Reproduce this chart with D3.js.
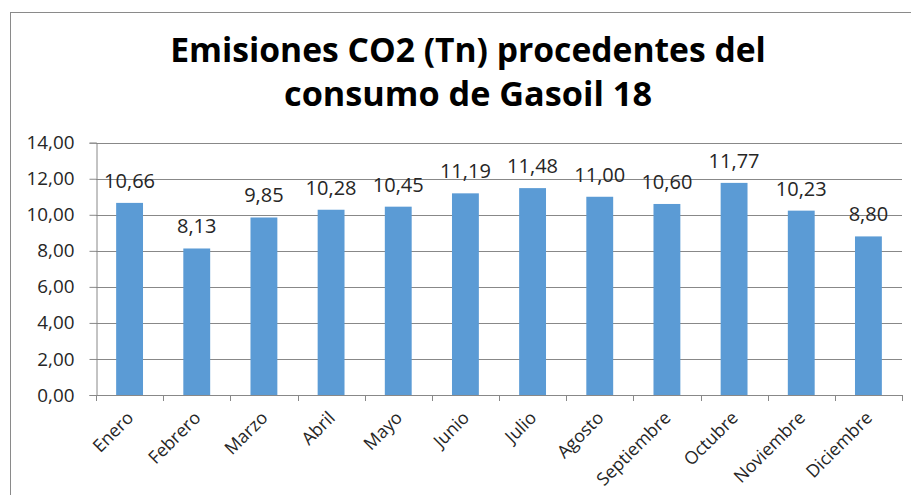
<!DOCTYPE html>
<html><head><meta charset="utf-8">
<script src="https://cdn.jsdelivr.net/npm/d3@7"></script>
<style>
html,body{margin:0;padding:0;background:#fff;}
svg{display:block;}
</style></head>
<body>
<svg id="chart" width="911" height="495"></svg>
<script>
const titleLines = ["Emisiones CO2 (Tn) procedentes del", "consumo de Gasoil 18"];
const months = ["Enero","Febrero","Marzo","Abril","Mayo","Junio","Julio","Agosto","Septiembre","Octubre","Noviembre","Diciembre"];
const emissions = [10.66, 8.13, 9.85, 10.28, 10.45, 11.19, 11.48, 11.00, 10.60, 11.77, 10.23, 8.80];
const yTicks = [0, 2, 4, 6, 8, 10, 12, 14];

const fmt = v => d3.format(".2f")(v).replace(".", ",");
const svg = d3.select("#chart");
const FONT = "'Open Sans', 'Noto Sans', sans-serif";

// font size so that a sample string gets a target width
function fitSize(sample, target, weight) {
  const t = svg.append("text").attr("font-family", FONT).attr("font-weight", weight || "normal")
    .attr("font-size", 20).text(sample);
  const w = t.node().getComputedTextLength();
  t.remove();
  return 20 * target / w;
}
const tickFs = fitSize("14,00", 48);
const labelFs = fitSize("10,66", 51);
const catFs = fitSize("Septiembre", 96);

// chart border (extends beyond the picture on right and bottom)
svg.append("rect").attr("x", 10.5).attr("y", 12.5).attr("width", 1000).attr("height", 1000)
  .attr("fill", "none").attr("stroke", "#8a8a8a").attr("stroke-width", 1);

const pLeft = 96, pRight = 902, pTop = 142.7, pBottom = 395;
const x = d3.scaleBand().domain(months).range([pLeft, pRight]).paddingInner(0.6).paddingOuter(0.3);
const y = d3.scaleLinear().domain([0, 14]).range([pBottom, pTop]);

// title
const titleWidths = [596, 368];
const titleBase = [62.3, 106];
titleLines.forEach((t, i) => {
  svg.append("text").attr("x", 468).attr("y", titleBase[i])
    .attr("text-anchor", "middle").attr("font-family", FONT).attr("font-weight", "bold")
    .attr("font-size", fitSize(t, titleWidths[i], "bold")).attr("fill", "#000").text(t);
});

// gridlines
svg.append("g").selectAll("line").data(yTicks.filter(d => d > 0)).join("line")
  .attr("x1", pLeft).attr("x2", pRight)
  .attr("y1", d => Math.round(y(d)) + 0.5).attr("y2", d => Math.round(y(d)) + 0.5)
  .attr("stroke", "#888888").attr("stroke-width", 1);

// y axis
const yAxis = svg.append("g").attr("transform", `translate(${pLeft + 0.5},0)`)
  .call(d3.axisLeft(y).tickValues(yTicks).tickFormat(fmt).tickSize(7).tickPadding(15));
yAxis.select(".domain").attr("stroke", "#888888");
yAxis.selectAll(".tick line").attr("stroke", "#888888");
yAxis.selectAll(".tick text").attr("font-family", FONT).attr("font-size", tickFs).attr("fill", "#262626");

// bars
svg.append("g").selectAll("rect").data(emissions).join("rect")
  .attr("x", (d, i) => x(months[i])).attr("width", x.bandwidth())
  .attr("y", d => y(d)).attr("height", d => pBottom - y(d))
  .attr("fill", "#5B9BD5");

// data labels
svg.append("g").selectAll("text").data(emissions).join("text")
  .attr("x", (d, i) => x(months[i]) + x.bandwidth() / 2)
  .attr("y", d => y(d) - 15)
  .attr("text-anchor", "middle").attr("font-family", FONT).attr("font-size", labelFs)
  .attr("fill", "#262626").text(fmt);

// x axis line and boundary ticks
const xa = svg.append("g");
xa.append("line").attr("x1", pLeft).attr("x2", pRight).attr("y1", pBottom + 0.5).attr("y2", pBottom + 0.5)
  .attr("stroke", "#888888");
const step = x.step();
const bounds = d3.range(months.length + 1).map(i => pLeft + i * step);
xa.selectAll("line.tk").data(bounds).join("line").attr("class", "tk")
  .attr("x1", d => Math.round(d) + 0.5).attr("x2", d => Math.round(d) + 0.5)
  .attr("y1", pBottom).attr("y2", pBottom + 6).attr("stroke", "#888888");

// x labels rotated
xa.selectAll("text").data(months).join("text")
  .attr("transform", d => `translate(${x(d) + x.bandwidth() / 2 + 5},${pBottom + 24}) rotate(-45)`)
  .attr("text-anchor", "end").attr("font-family", FONT).attr("font-size", catFs)
  .attr("fill", "#262626").text(d => d);
</script>
</body></html>
